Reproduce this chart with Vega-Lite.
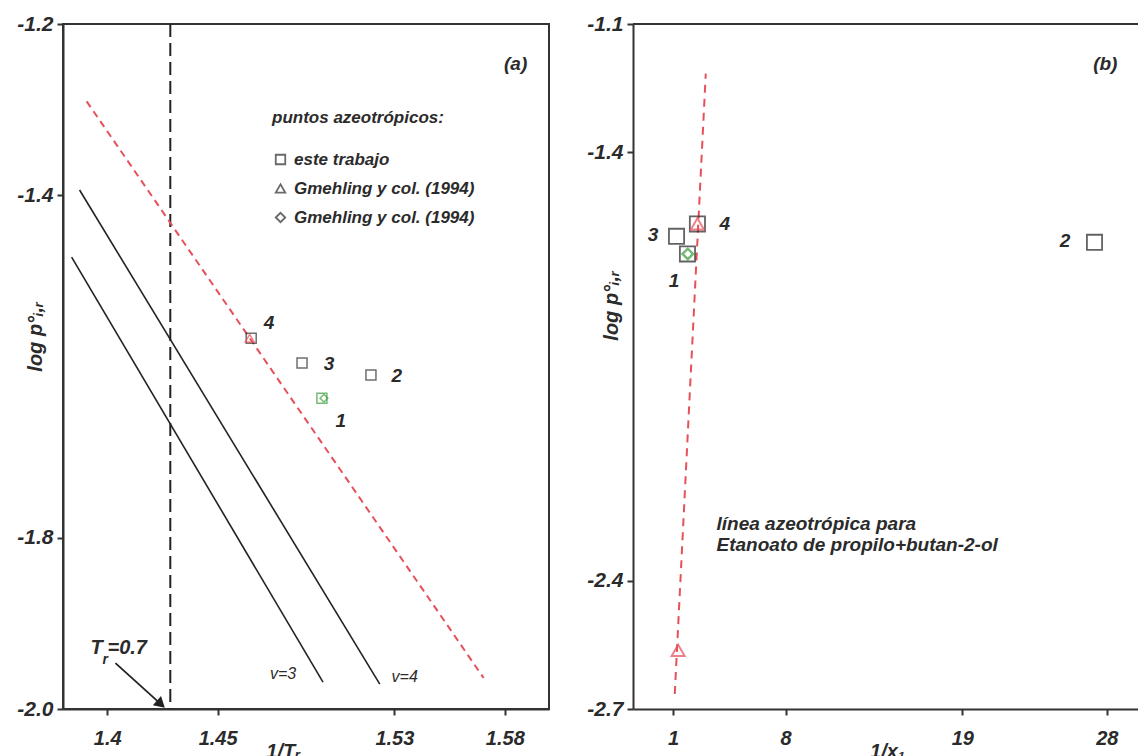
{
  "$schema": "https://vega.github.io/schema/vega-lite/v6.json",
  "autosize": {"type": "pad"},
  "padding": {"left": 15, "top": 12, "right": 0, "bottom": 0},
  "background": "white",
  "spacing": 84,
  "bounds": "flush",
  "config": {
    "font": "Liberation Sans",
    "view": {"stroke": "#333", "strokeWidth": 2},
    "axis": {
      "grid": false, "domainColor": "#333", "domainWidth": 2, "tickColor": "#333", "tickWidth": 2, "tickSize": 6,
      "labelFont": "Liberation Sans", "labelFontStyle": "italic", "labelFontWeight": "bold", "labelFontSize": 20, "labelColor": "#2b2b2b",
      "titleFont": "Liberation Sans", "titleFontStyle": "italic", "titleFontWeight": "bold", "titleFontSize": 20, "titleColor": "#2b2b2b"
    },
    "text": {"font": "Liberation Sans", "fontStyle": "italic", "fontWeight": "bold", "fontSize": 18, "color": "#2b2b2b"}
  },
  "resolve": {"scale": {"shape": "independent"}, "legend": {"shape": "independent"}},
  "datasets": {
    "a_tr_line": [{"x": 1.428571}],
    "a_azeo": [{"x": 1.3907, "y": -1.2903}, {"x": 1.5704, "y": -1.9637}],
    "a_v": [
      {"serie": "v=3", "x": 1.3839, "y": -1.4722}, {"serie": "v=3", "x": 1.4977, "y": -1.9687},
      {"serie": "v=4", "x": 1.3875, "y": -1.3939}, {"serie": "v=4", "x": 1.5234, "y": -1.971}
    ],
    "a_sq": [
      {"x": 1.4652, "y": -1.567, "fuente": "este"},
      {"x": 1.4882, "y": -1.596, "fuente": "este"},
      {"x": 1.5194, "y": -1.610, "fuente": "este"}
    ],
    "a_sq_g": [{"x": 1.4972, "y": -1.637, "fuente": "este"}],
    "a_tri": [{"x": 1.4645, "y": -1.567, "fuente": "gm_t"}],
    "a_dia": [{"x": 1.4981, "y": -1.637, "fuente": "gm_d"}],
    "a_lbl": [
      {"x": 1.5849, "y": -1.2467, "t": "(a)"},
      {"x": 1.4733, "y": -1.5493, "t": "4"},
      {"x": 1.5004, "y": -1.5972, "t": "3"},
      {"x": 1.5311, "y": -1.6112, "t": "2"},
      {"x": 1.5058, "y": -1.6638, "t": "1"}
    ],
    "a_tr": [{"x": 1.39246, "y": -1.929, "t": "T"}, {"x": 1.40014, "y": -1.929, "t": "=0.7"}],
    "a_tr_sub": [{"x": 1.39788, "y": -1.943, "t": "r"}],
    "a_v_lbl": [{"x": 1.4796, "y": -1.9593, "t": "v=3"}, {"x": 1.5347, "y": -1.9629, "t": "v=4"}],
    "a_arrow": [{"x": 1.40375, "y": -1.9465, "x2": 1.4243, "y2": -1.9944}],
    "b_top": [{"y": -1.1}],
    "b_line": [{"x": 3.03, "y": -1.216}, {"x": 1.10, "y": -2.665}],
    "b_sq": [
      {"x": 1.21, "y": -1.596}, {"x": 1.89, "y": -1.637}, {"x": 2.51, "y": -1.567}, {"x": 27.23, "y": -1.61}
    ],
    "b_tri": [{"x": 2.51, "y": -1.567}, {"x": 1.31, "y": -2.563}],
    "b_dia": [{"x": 1.91, "y": -1.637}],
    "b_lbl": [
      {"x": 27.9, "y": -1.1935, "t": "(b)"},
      {"x": -0.246, "y": -1.5937, "t": "3"},
      {"x": 4.215, "y": -1.5666, "t": "4"},
      {"x": 1.06, "y": -1.7012, "t": "1"},
      {"x": 25.4, "y": -1.6077, "t": "2"}
    ],
    "b_note": [
      {"x": 3.7, "y": -2.2675, "t": "línea azeotrópica para"},
      {"x": 3.7, "y": -2.317, "t": "Etanoato de propilo+butan-2-ol"}
    ]
  },
  "hconcat": [
    {
      "width": 486,
      "height": 685,
      "view": {"stroke": "#333", "strokeWidth": 2},
      "layer": [
        {
          "data": {"name": "a_tr_line"},
          "mark": {"type": "rule", "color": "#222", "strokeWidth": 2, "strokeDash": [13, 6]},
          "encoding": {
            "x": {"field": "x", "type": "quantitative", "scale": {"domain": [1.38, 1.6], "nice": false, "zero": false},
              "axis": {"values": [1.4, 1.45, 1.53, 1.58], "labelExpr": "'' + datum.value", "labelPadding": 13,
                "title": "1/Tᵣ", "titleX": 220, "titleY": 32, "titleBaseline": "top", "titleAlign": "center"}}
          }
        },
        {
          "data": {"name": "a_azeo"},
          "mark": {"type": "line", "color": "#e6505a", "strokeWidth": 2, "strokeDash": [7, 5]},
          "encoding": {
            "x": {"field": "x", "type": "quantitative"},
            "y": {"field": "y", "type": "quantitative", "scale": {"domain": [-2.0, -1.2], "nice": false, "zero": false},
              "axis": {"values": [-1.2, -1.4, -1.8, -2.0], "labelExpr": "replace(format(datum.value, '.1f'), '−', '-')", "labelPadding": 4, "labelFontSize": 21,
                "title": "log p°ᵢ,ᵣ", "titleX": -18, "titleY": 312, "titleBaseline": "bottom", "titleAlign": "center", "titleAngle": 270}}
          }
        },
        {
          "data": {"name": "a_v"},
          "mark": {"type": "line", "color": "#222", "strokeWidth": 1.6},
          "encoding": {
            "x": {"field": "x", "type": "quantitative"},
            "y": {"field": "y", "type": "quantitative"},
            "detail": {"field": "serie"}
          }
        },
        {
          "data": {"name": "a_sq"},
          "mark": {"type": "point", "filled": false, "color": "#333", "strokeWidth": 1.5, "size": 100},
          "encoding": {
            "x": {"field": "x", "type": "quantitative"},
            "y": {"field": "y", "type": "quantitative"},
            "shape": {"field": "fuente", "type": "nominal",
              "scale": {"domain": ["este", "gm_t", "gm_d"], "range": ["square", "triangle-up", "diamond"]},
              "legend": {"orient": "none", "legendX": 209, "legendY": 86, "padding": 0,
                "title": "puntos azeotrópicos:", "titleFont": "Liberation Sans", "titleFontStyle": "italic", "titleFontWeight": "bold",
                "titleFontSize": 17, "titleColor": "#2b2b2b", "titlePadding": 24, "titleLimit": 400,
                "labelFont": "Liberation Sans", "labelFontStyle": "italic", "labelFontWeight": "bold", "labelFontSize": 17,
                "labelColor": "#2b2b2b", "labelOffset": 5, "rowPadding": 11, "labelLimit": 400,
                "symbolSize": 90, "symbolStrokeColor": "#2b2b2b", "symbolStrokeWidth": 1.8, "symbolFillColor": "transparent",
                "labelExpr": "datum.value == 'este' ? 'este trabajo' : 'Gmehling y col. (1994)'"}}
          }
        },
        {
          "data": {"name": "a_sq_g"},
          "mark": {"type": "point", "filled": false, "color": "#3a9d3a", "strokeWidth": 1.5, "size": 100},
          "encoding": {
            "x": {"field": "x", "type": "quantitative"},
            "y": {"field": "y", "type": "quantitative"},
            "shape": {"field": "fuente", "type": "nominal"}
          }
        },
        {
          "data": {"name": "a_tri"},
          "mark": {"type": "point", "filled": false, "color": "#e6505a", "strokeWidth": 1.5, "size": 80},
          "encoding": {
            "x": {"field": "x", "type": "quantitative"},
            "y": {"field": "y", "type": "quantitative"},
            "shape": {"field": "fuente", "type": "nominal"}
          }
        },
        {
          "data": {"name": "a_dia"},
          "mark": {"type": "point", "filled": false, "color": "#3a9d3a", "strokeWidth": 1.5, "size": 60},
          "encoding": {
            "x": {"field": "x", "type": "quantitative"},
            "y": {"field": "y", "type": "quantitative"},
            "shape": {"field": "fuente", "type": "nominal"}
          }
        },
        {
          "data": {"name": "a_lbl"},
          "mark": {"type": "text", "align": "center", "baseline": "middle", "fontSize": 19},
          "encoding": {
            "x": {"field": "x", "type": "quantitative"},
            "y": {"field": "y", "type": "quantitative"},
            "text": {"field": "t"}
          }
        },
        {
          "data": {"name": "a_tr"},
          "mark": {"type": "text", "align": "left", "baseline": "middle", "fontSize": 20},
          "encoding": {
            "x": {"field": "x", "type": "quantitative"},
            "y": {"field": "y", "type": "quantitative"},
            "text": {"field": "t"}
          }
        },
        {
          "data": {"name": "a_tr_sub"},
          "mark": {"type": "text", "align": "left", "baseline": "middle", "fontSize": 14},
          "encoding": {
            "x": {"field": "x", "type": "quantitative"},
            "y": {"field": "y", "type": "quantitative"},
            "text": {"field": "t"}
          }
        },
        {
          "data": {"name": "a_v_lbl"},
          "mark": {"type": "text", "align": "center", "baseline": "middle", "fontSize": 16, "fontWeight": "normal"},
          "encoding": {
            "x": {"field": "x", "type": "quantitative"},
            "y": {"field": "y", "type": "quantitative"},
            "text": {"field": "t"}
          }
        },
        {
          "data": {"name": "a_arrow"},
          "mark": {"type": "rule", "color": "#222", "strokeWidth": 1.8},
          "encoding": {
            "x": {"field": "x", "type": "quantitative"},
            "y": {"field": "y", "type": "quantitative"},
            "x2": {"field": "x2"},
            "y2": {"field": "y2"}
          }
        },
        {
          "data": {"name": "a_arrow"},
          "mark": {"type": "point", "shape": "triangle-up", "filled": true, "color": "#222", "size": 150, "angle": 132, "opacity": 1},
          "encoding": {
            "x": {"field": "x2", "type": "quantitative"},
            "y": {"field": "y2", "type": "quantitative"}
          }
        }
      ]
    },
    {
      "width": 506,
      "height": 685,
      "view": {"stroke": null},
      "layer": [
        {
          "data": {"name": "b_top"},
          "mark": {"type": "rule", "color": "#333", "strokeWidth": 2},
          "encoding": {
            "y": {"field": "y", "type": "quantitative", "scale": {"domain": [-2.7, -1.1], "nice": false, "zero": false},
              "axis": {"values": [-1.1, -1.4, -2.4, -2.7], "labelExpr": "replace(format(datum.value, '.1f'), '−', '-')", "labelPadding": 4, "labelFontSize": 21,
                "title": "log p°ᵢ,ᵣ", "titleX": -12, "titleY": 281, "titleBaseline": "bottom", "titleAlign": "center", "titleAngle": 270}}
          }
        },
        {
          "data": {"name": "b_line"},
          "mark": {"type": "line", "color": "#e6505a", "strokeWidth": 2, "strokeDash": [8, 6]},
          "encoding": {
            "x": {"field": "x", "type": "quantitative", "scale": {"domain": [-1.5, 30], "nice": false, "zero": false},
              "axis": {"values": [1, 8, 19, 28], "format": "d", "labelPadding": 13,
                "title": "1/x₁", "titleX": 254, "titleY": 32, "titleBaseline": "top", "titleAlign": "center"}},
            "y": {"field": "y", "type": "quantitative"}
          }
        },
        {
          "data": {"name": "b_sq"},
          "mark": {"type": "point", "shape": "square", "filled": false, "color": "#222", "strokeWidth": 1.8, "size": 230},
          "encoding": {
            "x": {"field": "x", "type": "quantitative"},
            "y": {"field": "y", "type": "quantitative"}
          }
        },
        {
          "data": {"name": "b_dia"},
          "mark": {"type": "point", "shape": "diamond", "filled": false, "color": "#3a9d3a", "strokeWidth": 2.5, "size": 110},
          "encoding": {
            "x": {"field": "x", "type": "quantitative"},
            "y": {"field": "y", "type": "quantitative"}
          }
        },
        {
          "data": {"name": "b_tri"},
          "mark": {"type": "point", "shape": "triangle-up", "filled": false, "color": "#e6505a", "strokeWidth": 2, "size": 170},
          "encoding": {
            "x": {"field": "x", "type": "quantitative"},
            "y": {"field": "y", "type": "quantitative"}
          }
        },
        {
          "data": {"name": "b_lbl"},
          "mark": {"type": "text", "align": "center", "baseline": "middle", "fontSize": 19},
          "encoding": {
            "x": {"field": "x", "type": "quantitative"},
            "y": {"field": "y", "type": "quantitative"},
            "text": {"field": "t"}
          }
        },
        {
          "data": {"name": "b_note"},
          "mark": {"type": "text", "align": "left", "baseline": "middle", "fontSize": 19},
          "encoding": {
            "x": {"field": "x", "type": "quantitative"},
            "y": {"field": "y", "type": "quantitative"},
            "text": {"field": "t"}
          }
        }
      ]
    }
  ]
}
